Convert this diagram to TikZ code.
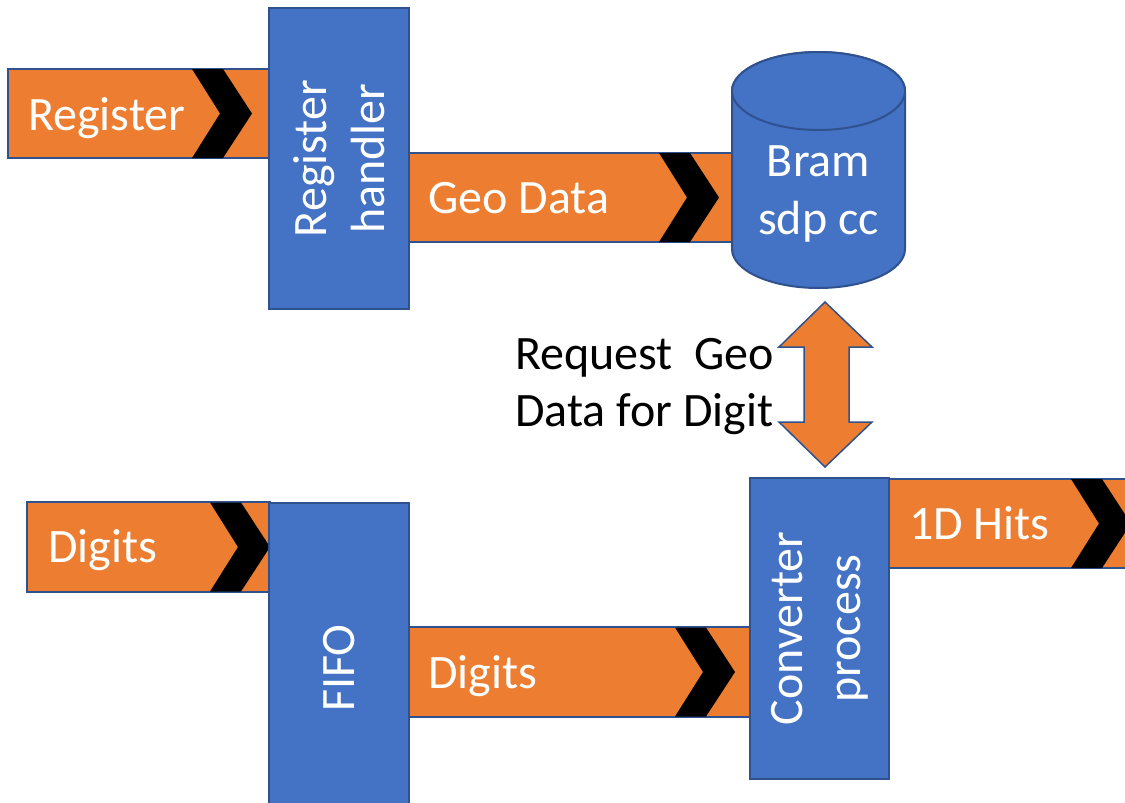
\documentclass[tikz,border=0pt]{standalone}
\usepackage{fontspec}
\setmainfont{Carlito}
\definecolor{flow}{HTML}{ED7D31}
\definecolor{unit}{HTML}{4472C4}
\definecolor{edge}{HTML}{2F528F}
\tikzset{
  bar/.style={fill=flow, draw=edge, line width=1.5pt},
  unitbox/.style={fill=unit, draw=edge, line width=2pt},
  lbl/.style={text=white, inner sep=0pt, font=\fontsize{48}{58}\selectfont},
  note/.style={text=black, inner sep=0pt, align=left, font=\fontsize{48}{57}\selectfont},
  chevron/.pic={\fill[black] (0,0) -- (31,0) -- (60,44.5) -- (31,89) -- (0,89) -- (28,44.5) -- cycle;}
}
\begin{document}
\begin{tikzpicture}[x=1pt,y=-1pt]
\useasboundingbox (0,0) rectangle (1125,803);
\clip (0,0) rectangle (1125,803);
% data flow bars
\draw[bar] (8,69) rectangle (270,158) coordinate (regbar);
\draw[bar] (408,153) rectangle (735,242) coordinate (geobar);
\draw[bar] (27,502) rectangle (270,592) coordinate (digbarA);
\draw[bar] (408,627) rectangle (750,717) coordinate (digbarB);
\draw[bar] (888,479) rectangle (1140,568) coordinate (hitbar);
\pic at (192,69) {chevron};
\pic at (659,153) {chevron};
\pic at (210,502.5) {chevron};
\pic at (675,627.5) {chevron};
\pic at (1071,479) {chevron};
% processing units
\node[unitbox, anchor=north west, minimum width=140pt, minimum height=301pt] (handler) at (268,7) {};
\node[unitbox, anchor=north west, minimum width=140pt, minimum height=330pt] (fifo) at (268,502) {};
\node[unitbox, anchor=north west, minimum width=139pt, minimum height=301pt] (conv) at (749,477) {};
% block RAM
\path[unitbox] (732,91) -- (732,249)
  arc[start angle=180, end angle=360, x radius=86.5pt, y radius=39pt]
  -- (905,91)
  arc[start angle=0, end angle=180, x radius=86.5pt, y radius=39pt] -- cycle;
\path[unitbox] (818.5,91) ellipse[x radius=86.5pt, y radius=39pt];
\coordinate (bram) at (818.5,194);
% request/response arrow
\path[fill=flow, draw=edge, line width=1.5pt]
  (825,302) -- (872,347) -- (849,347) -- (849,422) -- (872,422) -- (825,467)
  -- (779,422) -- (804,422) -- (804,347) -- (779,347) -- cycle;
% labels
\node[lbl, anchor=base west] (t-reg) at (28,130) {Register};
\node[lbl, anchor=base west] (t-geo) at (428,213) {Geo Data};
\node[lbl, anchor=base west] (t-digA) at (48,562) {Digits};
\node[lbl, anchor=base west] (t-digB) at (428,688) {Digits};
\node[lbl, anchor=base west] (t-hit) at (909,539) {1D Hits};
\node[lbl, align=center] (t-bram) at (bram) {Bram\\sdp cc};
\node[lbl, align=center, rotate=90] (t-handler) at (handler.center) {Register\\handler};
\node[lbl, align=center, rotate=90] (t-fifo) at (fifo.center) {FIFO};
\node[lbl, align=center, rotate=90] (t-conv) at (conv.center) {Converter\\process};
\node[note, anchor=north west] (t-req) at (515,338) {Request\ \ Geo\\Data for Digit};
\end{tikzpicture}
\end{document}
